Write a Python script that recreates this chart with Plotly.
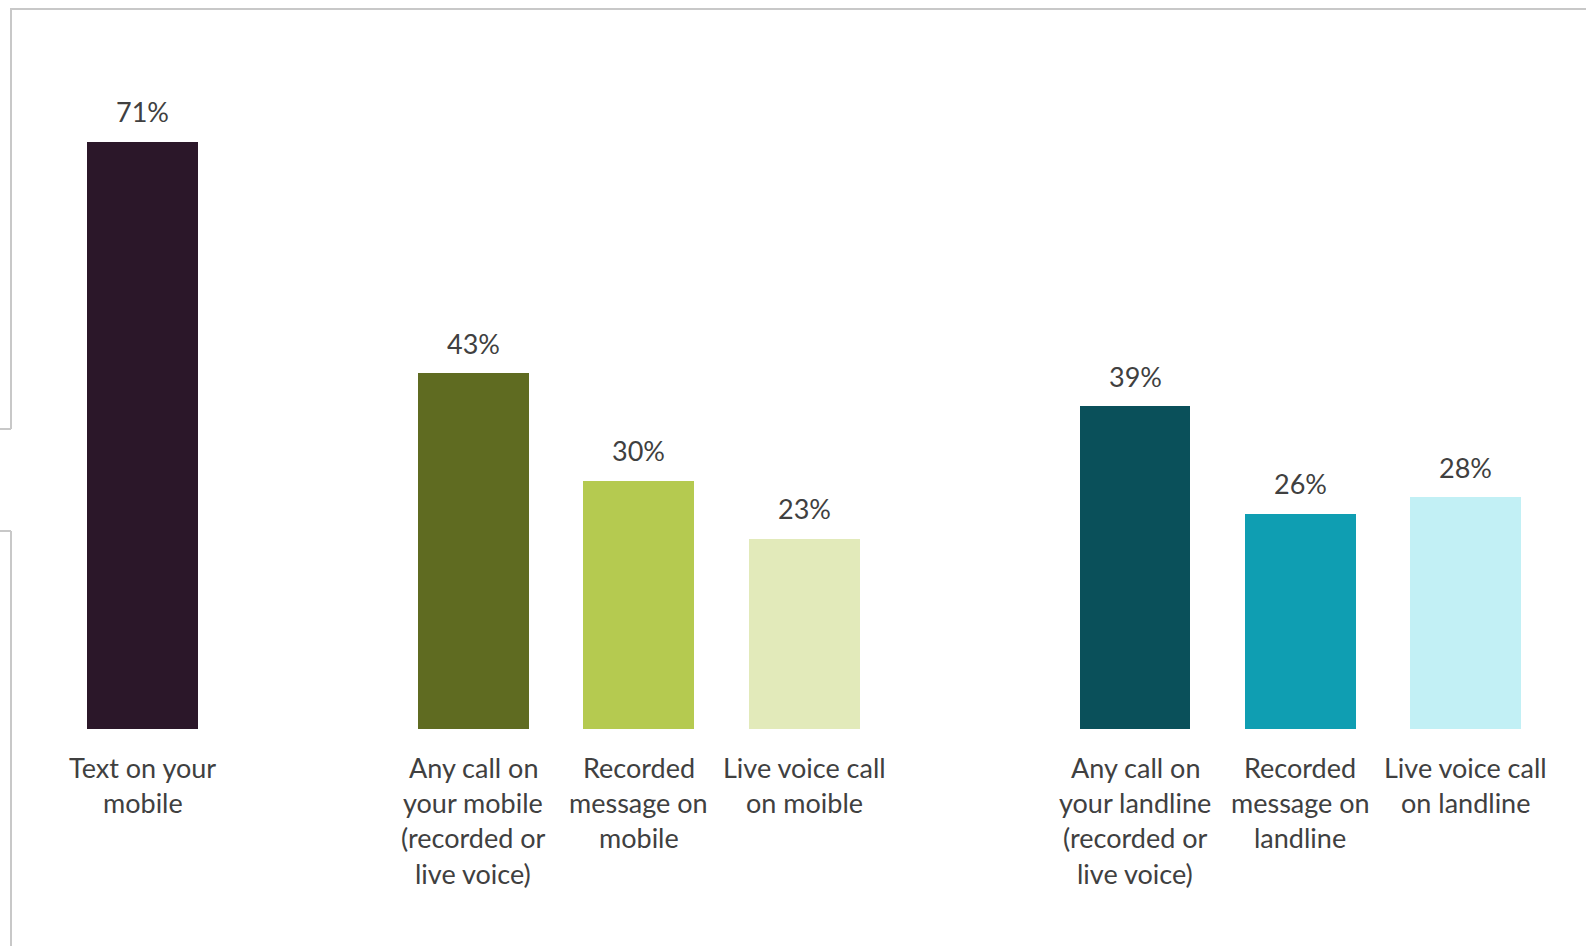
import plotly.graph_objects as go

categories = [
    "Text on your<br>mobile",
    "Any call on<br>your mobile<br>(recorded or<br>live voice)",
    "Recorded<br>message on<br>mobile",
    "Live voice call<br>on moible",
    "Any call on<br>your landline<br>(recorded or<br>live voice)",
    "Recorded<br>message on<br>landline",
    "Live voice call<br>on landline",
]
values = [71, 43, 30, 23, 39, 26, 28]
positions = [0, 2, 3, 4, 6, 7, 8]
colors = ["#2B1729", "#5F6B21", "#B5CA50", "#E2EABA", "#0A505A", "#0F9EB2", "#C2F0F5"]

W, H = 1586, 946
TOP, BASE = 9, 729
FONT = "Lato"
TXT = "#404040"

fig = go.Figure()
fig.add_trace(go.Bar(
    x=positions, y=values, marker=dict(color=colors, line=dict(width=0)),
    width=0.67, hoverinfo="skip", showlegend=False,
))

annotations = []
for p, v in zip(positions, values):
    annotations.append(dict(
        x=p, y=v, xref="x", yref="y", text=f"{v}%", showarrow=False,
        yanchor="middle", yshift=30, font=dict(family=FONT, size=27, color=TXT),
    ))
line_gap = 35.4
for p, lab in zip(positions, categories):
    for i, line in enumerate(lab.split("<br>")):
        annotations.append(dict(
            x=p, y=0, xref="x", yref="y", text=line, showarrow=False,
            yanchor="middle", yshift=-(38 + i * line_gap),
            font=dict(family=FONT, size=27, color=TXT),
        ))

def px_x(px):
    return px / W

def px_y(py):
    return (BASE - py) / (BASE - TOP)

border = dict(color="#C8C8C8", width=2)
shapes = [
    dict(type="line", xref="paper", yref="paper", x0=px_x(10), x1=px_x(W), y0=px_y(9), y1=px_y(9), line=border),
    dict(type="line", xref="paper", yref="paper", x0=px_x(11), x1=px_x(11), y0=px_y(9), y1=px_y(429), line=border),
    dict(type="line", xref="paper", yref="paper", x0=px_x(0), x1=px_x(11), y0=px_y(429), y1=px_y(429), line=border),
    dict(type="line", xref="paper", yref="paper", x0=px_x(0), x1=px_x(11), y0=px_y(531), y1=px_y(531), line=border),
    dict(type="line", xref="paper", yref="paper", x0=px_x(11), x1=px_x(11), y0=px_y(531), y1=px_y(H), line=border),
]

slot = 165.4
c0 = 142.6
xr = [(0 - c0) / slot, (W - c0) / slot]
ppu = (729 - 141.8) / 71
yr = [0, (BASE - TOP) / ppu]

fig.update_layout(
    width=W, height=H,
    margin=dict(l=0, r=0, t=TOP, b=H - BASE, pad=0),
    paper_bgcolor="white", plot_bgcolor="white",
    xaxis=dict(range=xr, showticklabels=False, showgrid=False, zeroline=False, showline=False, fixedrange=True),
    yaxis=dict(range=yr, showticklabels=False, showgrid=False, zeroline=False, showline=False, fixedrange=True),
    annotations=annotations, shapes=shapes, bargap=0,
)

fig.write_html("out.html")
